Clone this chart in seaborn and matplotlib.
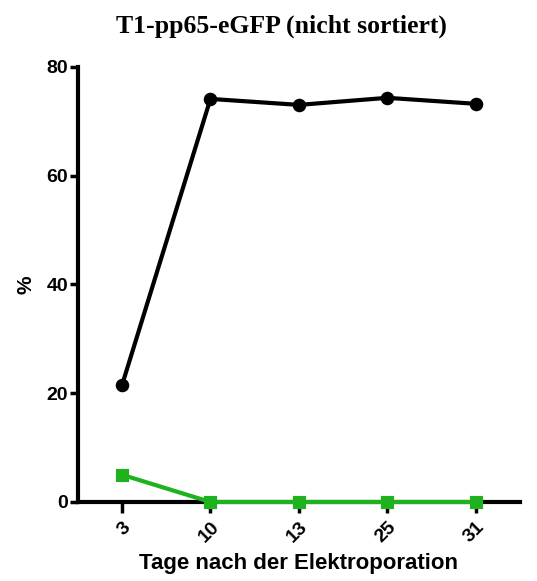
import matplotlib
matplotlib.use("Agg")
import matplotlib.pyplot as plt
import seaborn as sns
import pandas as pd

days = ["3", "10", "13", "25", "31"]
total = [21.5, 74.1, 73.0, 74.3, 73.2]
egfp = [5.0, 0.0, 0.0, 0.0, 0.0]

sns.set_theme(style="ticks")
plt.rcParams["font.family"] = ["Liberation Sans", "DejaVu Sans"]
plt.rcParams["text.color"] = "black"
plt.rcParams["axes.labelcolor"] = "black"

df = pd.DataFrame({"Tag": days * 2,
                   "Wert": total + egfp,
                   "Reihe": ["gesamt"] * len(days) + ["eGFP"] * len(days)})

fig = plt.figure(figsize=(5.37, 5.81), dpi=100)
ax = fig.add_axes([0.145, 0.136, 0.823, 0.749])

sns.pointplot(data=df[df.Reihe == "gesamt"], x="Tag", y="Wert", order=days,
              color="black", markers="o", linewidth=3, markersize=7.5, ax=ax)
sns.pointplot(data=df[df.Reihe == "eGFP"], x="Tag", y="Wert", order=days,
              color="#1fb21f", markers="s", linewidth=3, markersize=7.5, ax=ax)
for ln in ax.lines:
    ln.set_clip_on(False)
    ln.set_zorder(5)

ax.set_xlim(-0.5, 4.5)
ax.set_ylim(0, 80)
ax.set_yticks([0, 20, 40, 60, 80])
sns.despine(ax=ax)
for s in ("left", "bottom"):
    ax.spines[s].set_linewidth(3)
    ax.spines[s].set_color("black")
    ax.spines[s].set_zorder(2)
ax.spines["left"].set_bounds(0, 80)

ax.tick_params(axis="y", length=6, width=2.5, labelsize=14, pad=1, colors="black")
ax.tick_params(axis="x", length=8, width=2.5, labelsize=14, pad=4, colors="black")
for lab in ax.get_yticklabels():
    lab.set_fontweight("bold")
for lab in ax.get_xticklabels():
    lab.set_fontweight("bold")
    lab.set_rotation(45)
    lab.set_ha("right")
    lab.set_rotation_mode("anchor")

ax.set_xlabel("Tage nach der Elektroporation", fontsize=16, fontweight="bold", labelpad=5)
ax.set_ylabel("%", fontsize=15, fontweight="bold", labelpad=8)
fig.suptitle("T1-pp65-eGFP (nicht sortiert)", x=0.525, y=0.975,
             fontsize=18.5, fontweight="bold", family="Liberation Serif")

fig.savefig("out.png", dpi=100)
